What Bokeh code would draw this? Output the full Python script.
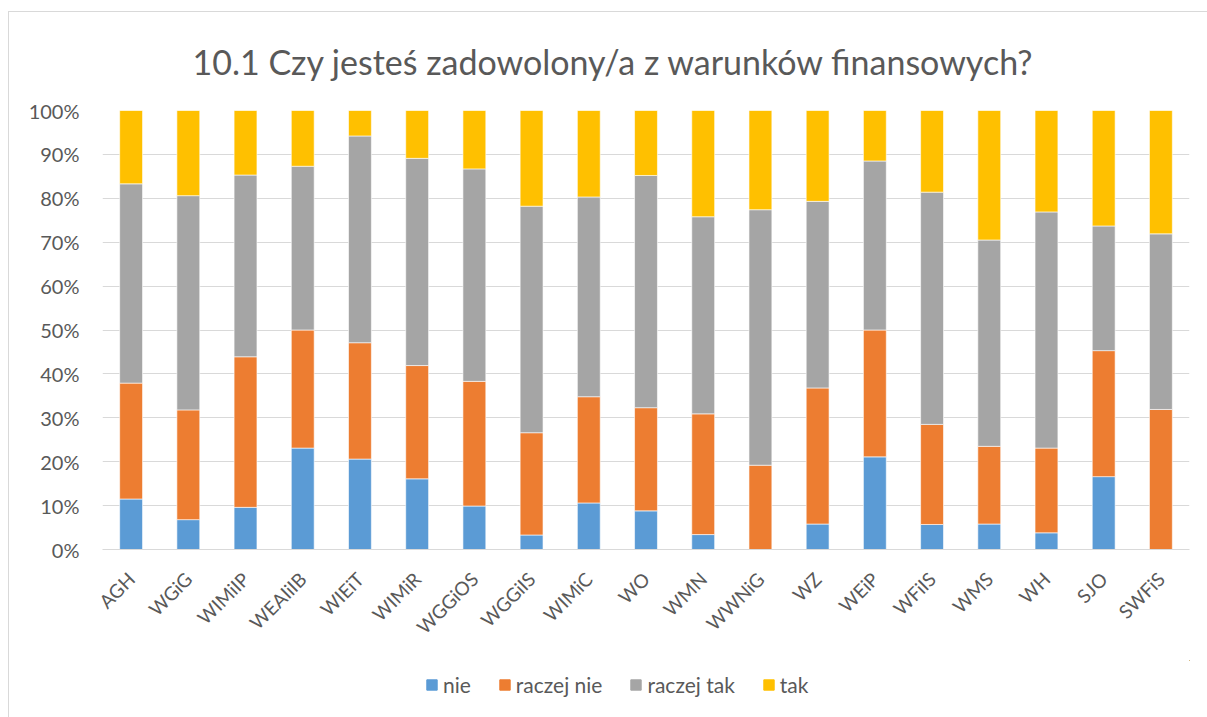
import math
from bokeh.plotting import figure
from bokeh.layouts import column
from bokeh.models import ColumnDataSource, Range1d, NumeralTickFormatter, Legend, LegendItem, FixedTicker
from bokeh.embed import file_html
from bokeh.resources import INLINE

categories = ["AGH", "WGiG", "WIMiIP", "WEAIiIB", "WIEiT", "WIMiR", "WGGiOS", "WGGiIS",
              "WIMiC", "WO", "WMN", "WWNiG", "WZ", "WEiP", "WFiIS", "WMS", "WH", "SJO", "SWFiS"]
nie = [11.5, 6.8, 9.6, 23.1, 20.6, 16.1, 9.9, 3.3, 10.6, 8.8, 3.4, 0.0, 5.8, 21.1, 5.7, 5.8, 3.8, 16.6, 0.0]
raczej_nie = [26.4, 25.0, 34.3, 26.9, 26.5, 25.8, 28.4, 23.3, 24.2, 23.5, 27.5, 19.2, 31.0, 28.9, 22.8, 17.7, 19.3, 28.7, 31.9]
raczej_tak = [45.4, 48.8, 41.4, 37.3, 47.1, 47.2, 48.4, 51.6, 45.5, 52.9, 44.9, 58.2, 42.5, 38.5, 52.9, 47.0, 53.8, 28.4, 40.0]
tak = [16.7, 19.4, 14.7, 12.7, 5.8, 10.9, 13.3, 21.8, 19.7, 14.8, 24.2, 22.6, 20.7, 11.5, 18.6, 29.5, 23.1, 26.3, 28.1]
series = ["nie", "raczej nie", "raczej tak", "tak"]
colors = ["#5B9BD5", "#ED7D31", "#A5A5A5", "#FFC000"]
title_text = "10.1 Czy jesteś zadowolony/a z warunków finansowych?"

keys = ["nie", "rn", "rt", "tak"]
data = {"cat": categories}
for k, arr in zip(keys, [nie, raczej_nie, raczej_tak, tak]):
    data[k] = [v / 100.0 for v in arr]
src = ColumnDataSource(data)

FONT = "Lato"
TXT = "#595959"
GRID = "#D9D9D9"
LINE = "linear-gradient(#D9D9D9,#D9D9D9)"

p = figure(x_range=categories, y_range=Range1d(0, 1), width=1207, height=660,
           output_backend="svg", toolbar_location=None, title=title_text,
           min_border_left=102, min_border_right=18, min_border_top=110, min_border_bottom=111)
p.outline_line_color = None
p.background_fill_color = "white"
p.border_fill_alpha = 0
p.styles = {"background": f"{LINE} 8px 11px / 1px 100% no-repeat, {LINE} 8px 11px / 100% 1px no-repeat, white"}

p.title.align = "left"
p.title.offset = 90
p.title.standoff = 57
p.title.text_font = FONT
p.title.text_font_size = "34px"
p.title.text_font_style = "normal"
p.title.text_color = TXT

rs = p.vbar_stack(keys, x="cat", width=0.4, source=src, color=colors,
                  line_color="white", line_width=0.6)

p.xgrid.grid_line_color = None
p.ygrid.grid_line_color = GRID
p.ygrid.grid_line_width = 1

p.yaxis.ticker = FixedTicker(ticks=[i / 10 for i in range(11)])
p.yaxis.formatter = NumeralTickFormatter(format="0%")
p.yaxis.axis_line_color = None
p.yaxis.major_tick_line_color = None
p.yaxis.minor_tick_line_color = None
p.yaxis.major_label_text_font = FONT
p.yaxis.major_label_text_font_size = "20px"
p.yaxis.major_label_text_color = TXT
p.yaxis.major_label_standoff = 17

p.xaxis.axis_line_color = GRID
p.xaxis.axis_line_width = 1
p.xaxis.major_tick_line_color = None
p.xaxis.minor_tick_line_color = None
p.xaxis.major_label_orientation = math.pi / 4
p.xaxis.major_label_text_font = FONT
p.xaxis.major_label_text_font_size = "19px"
p.xaxis.major_label_text_color = TXT
p.xaxis.major_label_standoff = 20
p.x_range.range_padding = 0.0

# separate strip for the legend below the chart
p2 = figure(width=1207, height=57, x_range=(0, 1), y_range=(0, 1),
            output_backend="svg", toolbar_location=None,
            x_axis_location=None, y_axis_location=None, min_border=0)
p2.outline_line_color = None
p2.grid.visible = False
p2.background_fill_alpha = 0
p2.border_fill_alpha = 0
p2.styles = {"background": f"{LINE} 8px 0 / 1px 100% no-repeat, white"}
# legend swatch renderers, placed outside the visible range
lr = [p2.vbar(x=[5.0], top=[5.0], bottom=[4.0], width=0.1, color=c) for c in colors]

legend = Legend(items=[LegendItem(label=s, renderers=[r]) for s, r in zip(series, lr)],
                orientation="horizontal", location=(323, 20),
                label_text_font=FONT, label_text_font_size="21px", label_text_color=TXT,
                glyph_width=13, glyph_height=13, label_standoff=5, spacing=27,
                border_line_color=None, background_fill_alpha=0, margin=0, padding=0)
p2.add_layout(legend)

open("out.html", "w").write(file_html(column(p, p2), INLINE))
